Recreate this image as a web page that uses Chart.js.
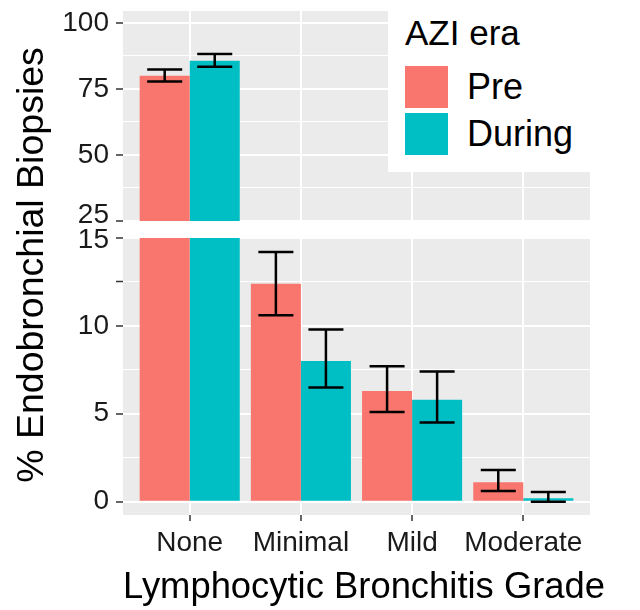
<!DOCTYPE html>
<html>
<head>
<meta charset="utf-8">
<title>Lymphocytic Bronchitis Grade</title>
<script src="https://cdn.jsdelivr.net/npm/chart.js@4.4.1/dist/chart.umd.min.js"></script>
<style>
  body { margin: 0; background: #fff; }
  #wrap { position: relative; width: 640px; height: 610px; overflow: hidden;
          font-family: "Liberation Sans", Arial, sans-serif; color: #000; }
  canvas { position: absolute; left: 0; }
  #topChart { top: 0; }
  #bottomChart { top: 220px; }
  #ytitle { position: absolute; left: -220px; top: 243px; width: 500px; height: 44px;
            line-height: 44px; font-size: 37.5px; text-align: center; transform: rotate(-90deg); }
  #xtitle { position: absolute; left: 123px; top: 564px; height: 44px; line-height: 44px;
            font-size: 36.4px; white-space: nowrap; }
  #legend { position: absolute; left: 388px; top: 0; width: 252px; height: 172px; background: #fff; }
  #legend .title { position: absolute; left: 17px; top: 13px; font-size: 35px; line-height: 40px; }
  #legend .key { position: absolute; left: 17px; width: 43px; height: 42px; }
  #legend .label { position: absolute; left: 79px; font-size: 36px; line-height: 42px; }
</style>
</head>
<body>
<div id="wrap">
  <canvas id="topChart" width="640" height="245"></canvas>
  <canvas id="bottomChart" width="640" height="390"></canvas>
  <div id="ytitle">% Endobronchial Biopsies</div>
  <div id="xtitle">Lymphocytic Bronchitis Grade</div>
  <div id="legend"></div>
</div>
<script>
// categories and groups
const grades = ['None', 'Minimal', 'Mild', 'Moderate'];
const eras = ['Pre', 'During'];
const eraColors = ['#F8766D', '#00BFC4'];

// % of biopsies, with error bar ends
const preValues = [80.0, 12.4, 6.3, 1.1];
const preLow = [77.8, 10.6, 5.1, 0.6];
const preHigh = [82.4, 14.2, 7.7, 1.8];
const duringValues = [85.7, 8.0, 5.8, 0.2];
const duringLow = [83.4, 6.5, 4.5, 0.0];
const duringHigh = [88.2, 9.8, 7.4, 0.55];

// tick values for the two panels of the broken axis
const topMajor = [25, 50, 75, 100];
const topMinor = [37.5, 62.5, 87.5];
const bottomMajor = [0, 5, 10, 15];
const bottomMinor = [2.5, 7.5, 12.5];
const bottomMinorMarked = [12.5];

const gradePositions = grades.map((g, i) => i + 1);
const FONT = '"Liberation Sans", Arial, sans-serif';

function makeDatasets() {
  const vals = [preValues, duringValues];
  const lows = [preLow, duringLow];
  const highs = [preHigh, duringHigh];
  return eras.map((era, k) => ({
    label: era,
    data: vals[k].map((v, i) => ({ x: gradePositions[i], y: v })),
    errLow: lows[k],
    errHigh: highs[k],
    backgroundColor: eraColors[k],
    borderWidth: 0,
    categoryPercentage: 0.9,
    barPercentage: 1.0,
    clip: 0
  }));
}

// grey panel behind the grid
const panelBg = {
  id: 'panelBg',
  beforeDraw(chart) {
    const a = chart.chartArea;
    const c = chart.ctx;
    c.save();
    c.fillStyle = '#EBEBEB';
    c.fillRect(a.left, a.top, a.right - a.left, a.bottom - a.top);
    c.restore();
  }
};

// error bars drawn from the scales
const errorBars = {
  id: 'errorBars',
  afterDatasetsDraw(chart) {
    const c = chart.ctx;
    const a = chart.chartArea;
    const yScale = chart.scales.y;
    c.save();
    c.beginPath();
    c.rect(a.left, a.top, a.right - a.left, a.bottom - a.top);
    c.clip();
    c.strokeStyle = '#000';
    c.lineWidth = 2.5;
    chart.data.datasets.forEach((ds, d) => {
      const meta = chart.getDatasetMeta(d);
      meta.data.forEach((bar, i) => {
        const x = bar.x;
        const half = bar.width * 0.35;
        const yl = yScale.getPixelForValue(ds.errLow[i]);
        const yh = yScale.getPixelForValue(ds.errHigh[i]);
        c.beginPath();
        c.moveTo(x, yl); c.lineTo(x, yh);
        c.moveTo(x - half, yl); c.lineTo(x + half, yl);
        c.moveTo(x - half, yh); c.lineTo(x + half, yh);
        c.stroke();
      });
    });
    c.restore();
  }
};

// edge label at the axis break is nudged away from the gap (shift in px, - is up)
function yScaleOptions(min, max, major, minor, marked, edge, shift) {
  const all = major.concat(minor).sort((a, b) => a - b);
  return {
    type: 'linear',
    min: min,
    max: max,
    afterBuildTicks: s => { s.ticks = all.map(v => ({ value: v })); },
    afterFit: s => { s.width = 123; s.paddingTop = 0; s.paddingBottom = 0; },
    border: { display: false },
    grid: {
      color: '#FFFFFF',
      lineWidth: ctx => major.includes(ctx.tick.value) ? 2 : 1,
      tickLength: 7,
      tickWidth: 1.5,
      tickColor: ctx => (major.includes(ctx.tick.value) || marked.includes(ctx.tick.value)) ? '#333333' : 'rgba(0,0,0,0)'
    },
    ticks: {
      autoSkip: false,
      padding: 7,
      color: '#1A1A1A',
      font: ctx => ({
        family: FONT,
        size: 28,
        lineHeight: (ctx.tick && ctx.tick.value === edge) ? (Math.abs(shift) * 2) + 'px' : 1.2
      }),
      callback: v => {
        if (!major.includes(v)) return '';
        if (v === edge) return shift < 0 ? [String(v), ''] : ['', String(v)];
        return String(v);
      }
    }
  };
}

function xScaleOptions(showLabels) {
  return {
    type: 'linear',
    min: 0.4,
    max: 4.6,
    offset: false,
    afterBuildTicks: s => { s.ticks = gradePositions.map(v => ({ value: v })); },
    afterFit: s => { s.height = showLabels ? 95 : 0; s.paddingLeft = 0; s.paddingRight = 0; },
    border: { display: false },
    grid: {
      offset: false,
      color: '#FFFFFF',
      lineWidth: 2,
      drawTicks: showLabels,
      tickLength: 6,
      tickWidth: 1.5,
      tickColor: '#333333'
    },
    ticks: {
      display: showLabels,
      autoSkip: false,
      maxRotation: 0,
      padding: 5,
      color: '#1A1A1A',
      font: { family: FONT, size: 28 },
      callback: v => grades[v - 1] || ''
    }
  };
}

function baseOptions(padding, yOpts, showX) {
  return {
    responsive: false,
    animation: false,
    layout: { padding: padding },
    plugins: { legend: { display: false }, tooltip: { enabled: false } },
    scales: { x: xScaleOptions(showX), y: yOpts }
  };
}

// upper panel: 25 to 100
new Chart(document.getElementById('topChart'), {
  type: 'bar',
  data: { datasets: makeDatasets() },
  options: baseOptions({ top: 11, right: 50, bottom: 24, left: 0 },
    yScaleOptions(25, 104.5, topMajor, topMinor, [], 25, -6), false),
  plugins: [panelBg, errorBars]
});

// lower panel: 0 to 15
new Chart(document.getElementById('bottomChart'), {
  type: 'bar',
  data: { datasets: makeDatasets() },
  options: baseOptions({ top: 18, right: 50, bottom: 0, left: 0 },
    yScaleOptions(-0.76, 15, bottomMajor, bottomMinor, bottomMinorMarked, 15, 2), true),
  plugins: [panelBg, errorBars]
});

// legend
const legend = document.getElementById('legend');
const t = document.createElement('div');
t.className = 'title';
t.textContent = 'AZI era';
legend.appendChild(t);
eras.forEach((era, k) => {
  const top = 66 + k * 47;
  const key = document.createElement('div');
  key.className = 'key';
  key.style.top = top + 'px';
  key.style.background = eraColors[k];
  legend.appendChild(key);
  const lab = document.createElement('div');
  lab.className = 'label';
  lab.style.top = top + 'px';
  lab.textContent = era;
  legend.appendChild(lab);
});
</script>
</body>
</html>
